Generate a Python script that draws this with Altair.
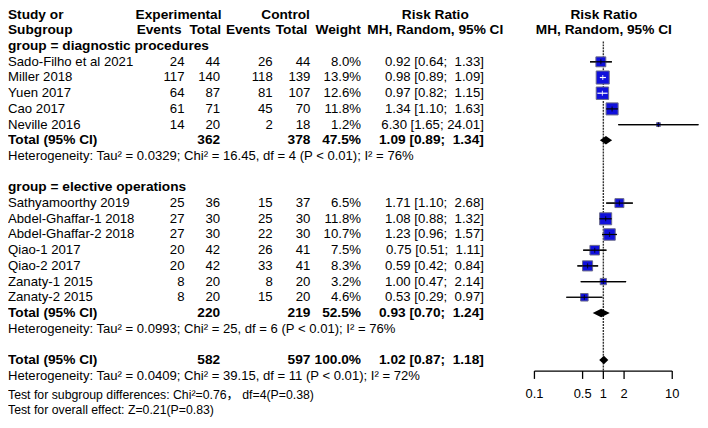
import altair as alt
import pandas as pd
import math

FONT = "Liberation Sans"
FONT_CJK = "Liberation Sans, Noto Sans CJK SC"
FS = 13.3
FS_B = 13.8
FS_HET = 13.2
FS_TEST = 12.4

# ---------------- data ----------------
studies = ["Sado-Filho et al 2021", "Miller 2018", "Yuen 2017", "Cao 2017", "Neville 2016",
           "Sathyamoorthy 2019", "Abdel-Ghaffar-1 2018", "Abdel-Ghaffar-2 2018", "Qiao-1 2017",
           "Qiao-2 2017", "Zanaty-1 2015", "Zanaty-2 2015"]
exp_events = [24, 117, 64, 61, 14, 25, 27, 27, 20, 20, 8, 8]
exp_total = [44, 140, 87, 71, 20, 36, 30, 30, 42, 42, 20, 20]
ctrl_events = [26, 118, 81, 45, 2, 15, 25, 22, 26, 33, 8, 15]
ctrl_total = [44, 139, 107, 70, 18, 37, 30, 30, 41, 41, 20, 20]
weights = [8.0, 13.9, 12.6, 11.8, 1.2, 6.5, 11.8, 10.7, 7.5, 8.3, 3.2, 4.6]
rr = [0.92, 0.98, 0.97, 1.34, 6.30, 1.71, 1.08, 1.23, 0.75, 0.59, 1.00, 0.53]
rr_lower = [0.64, 0.89, 0.82, 1.10, 1.65, 1.10, 0.88, 0.96, 0.51, 0.42, 0.47, 0.29]
rr_upper = [1.33, 1.09, 1.15, 1.63, 24.01, 2.68, 1.32, 1.57, 1.11, 0.84, 2.14, 0.97]
study_rows = [3, 4, 5, 6, 7, 12, 13, 14, 15, 16, 17, 18]

group_labels = ["group = diagnostic procedures", "group = elective operations"]
group_rows = [2, 11]

total_label = "Total (95% CI)"
total_rows = [8, 19, 22]
total_exp = [362, 220, 582]
total_ctrl = [378, 219, 597]
total_weight = [47.5, 52.5, 100.0]
total_rr = [1.09, 0.93, 1.02]
total_lower = [0.89, 0.70, 0.87]
total_upper = [1.34, 1.24, 1.18]

het_texts = [
    "Heterogeneity: Tau\u00b2 = 0.0329; Chi\u00b2 = 16.45, df = 4 (P < 0.01); I\u00b2 = 76%",
    "Heterogeneity: Tau\u00b2 = 0.0993; Chi\u00b2 = 25, df = 6 (P < 0.01); I\u00b2 = 76%",
    "Heterogeneity: Tau\u00b2 = 0.0409; Chi\u00b2 = 39.15, df = 11 (P < 0.01); I\u00b2 = 72%",
]
het_rows = [9, 20, 23]
test_texts = ["Test for subgroup differences: Chi\u00b2=0.76\uff0c df=4(P=0.38)",
              "Test for overall effect: Z=0.21(P=0.83)"]
test_rows = [24.2, 25.2]

tick_values = [0.1, 0.5, 1, 2, 10]
tick_labels = ["0.1", "0.5", "1", "2", "10"]

# ---------------- layout ----------------
W, H = 698, 412
yscale = alt.Scale(domain=[0, 25.2], range=[5, 404], nice=False, zero=False)
xscale = alt.Scale(type="log", domain=[0.1, 10], range=[531, 670], nice=False)
REF_TOP = 1.7
AXIS_ROW = 22.7
TICK_LEN = 0.5
LABEL_ROW = 24.15
SQ_SIZE = 12.5       # px^2 of square per weight percent
SQ_K = 10.5          # threshold for drawing the CI inside the square in white
PX_PER_DEC = 69.5


def rr_text(e, l, u):
    pad = "\u00a0" if u < 10 else ""
    return f"{e:.2f} [{l:.2f}; {pad}{u:.2f}]"


sdf = pd.DataFrame({
    "study": studies, "row": study_rows,
    "ee": [str(v) for v in exp_events], "et": [str(v) for v in exp_total],
    "ce": [str(v) for v in ctrl_events], "ct": [str(v) for v in ctrl_total],
    "weight": weights, "wtxt": [f"{v:.1f}%" for v in weights],
    "rr": rr, "lo": rr_lower, "up": rr_upper,
    "rrtxt": [rr_text(e, l, u) for e, l, u in zip(rr, rr_lower, rr_upper)],
})
inner = []
for w, e, l, u in zip(weights, rr, rr_lower, rr_upper):
    half = math.sqrt(w * SQ_K) / 2
    ok = (math.log10(u / e) * PX_PER_DEC <= half) and (math.log10(e / l) * PX_PER_DEC <= half)
    inner.append("in" if ok else "out")
sdf["inner"] = inner

tdf = pd.DataFrame({
    "label": [total_label] * 3, "row": total_rows,
    "et": [str(v) for v in total_exp], "ct": [str(v) for v in total_ctrl],
    "wtxt": [f"{v:.1f}%" for v in total_weight],
    "rrtxt": [rr_text(e, l, u) for e, l, u in zip(total_rr, total_lower, total_upper)],
})

gdf = pd.DataFrame({"label": group_labels, "row": group_rows})
hetdf = pd.DataFrame({"label": het_texts, "row": het_rows})
testdf = pd.DataFrame({"label": test_texts, "row": test_rows})

DH = 0.27
diam = []
for i, (e, l, u, r) in enumerate(zip(total_rr, total_lower, total_upper, total_rows)):
    diam.append({"id": i, "x": l, "y1": r, "y2": r})
    diam.append({"id": i, "x": e, "y1": r - DH, "y2": r + DH})
    diam.append({"id": i, "x": u, "y1": r, "y2": r})
ddf = pd.DataFrame(diam)

Y = alt.Y("row:Q", scale=yscale, axis=None)


def col_text(df, field, x, align, bold=False, size=None, font=FONT):
    if size is None:
        size = FS_B if bold else FS
    return alt.Chart(df).mark_text(
        align=align, baseline="middle", font=font, fontSize=size,
        fontWeight="bold" if bold else "normal", color="black"
    ).encode(x=alt.value(x), y=Y, text=alt.Text(f"{field}:N"))


def head(text, row, x, align):
    return alt.Chart(pd.DataFrame({"row": [row], "t": [text]})).mark_text(
        align=align, baseline="middle", font=FONT, fontSize=FS_B, fontWeight="bold", color="black"
    ).encode(x=alt.value(x), y=Y, text="t:N")


layers = []
# headers
layers += [
    head("Study or", 0, 0, "left"),
    head("Subgroup", 1, 0, "left"),
    head("Experimental", 0, 172, "center"),
    head("Control", 0, 280, "center"),
    head("Risk Ratio", 0, 431, "center"),
    head("Risk Ratio", 0, 601, "center"),
    head("Events", 1, 175, "right"),
    head("Total", 1, 215, "right"),
    head("Events", 1, 265, "right"),
    head("Total", 1, 302, "right"),
    head("Weight", 1, 356, "right"),
    head("MH, Random, 95% CI", 1, 431, "center"),
    head("MH, Random, 95% CI", 1, 601, "center"),
]
# study rows
layers += [
    col_text(sdf, "study", 0, "left"),
    col_text(sdf, "ee", 178, "right"),
    col_text(sdf, "et", 214, "right"),
    col_text(sdf, "ce", 267, "right"),
    col_text(sdf, "ct", 305, "right"),
    col_text(sdf, "wtxt", 356, "right"),
    col_text(sdf, "rrtxt", 480, "right"),
]
# group labels, totals, heterogeneity and tests
layers += [
    col_text(gdf, "label", 0, "left", bold=True),
    col_text(tdf, "label", 0, "left", bold=True),
    col_text(tdf, "et", 214, "right", bold=True),
    col_text(tdf, "ct", 305, "right", bold=True),
    col_text(tdf, "wtxt", 356, "right", bold=True),
    col_text(tdf, "rrtxt", 480, "right", bold=True),
    col_text(hetdf, "label", 0, "left", size=FS_HET),
    col_text(testdf, "label", 0, "left", size=FS_TEST, font=FONT_CJK),
]


def X(f):
    return alt.X(f"{f}:Q", scale=xscale, axis=None)


# reference line at 1
ref = alt.Chart(pd.DataFrame({"x": [1], "y": [REF_TOP], "y2": [AXIS_ROW]})).mark_rule(
    color="#333333", strokeWidth=1.4, strokeDash=[2, 1]
).encode(x=X("x"), y=alt.Y("y:Q", scale=yscale, axis=None), y2="y2:Q")

ci = alt.Chart(sdf).mark_rule(color="black", strokeWidth=1.2).encode(
    x=X("lo"), x2="up:Q", y=Y)

squares = alt.Chart(sdf).mark_square(
    filled=True, fill="#1010DC", stroke="#6a6a8a", strokeWidth=1, opacity=1
).encode(
    x=X("rr"), y=Y,
    size=alt.Size("weight:Q", scale=alt.Scale(domain=[0, 20], range=[0, 20 * SQ_SIZE]), legend=None),
)
inner_color = alt.Color("inner:N", scale=alt.Scale(domain=["in", "out"], range=["white", "black"]),
                        legend=None)
ci_top = alt.Chart(sdf).mark_rule(strokeWidth=1.2).encode(
    x=X("lo"), x2="up:Q", y=Y, color=inner_color)
est_tick = alt.Chart(sdf).mark_tick(orient="vertical", thickness=1.2, size=5).encode(
    x=X("rr"), y=Y, color=inner_color)

diamonds = alt.Chart(ddf).mark_area(color="black", orient="vertical", opacity=1).encode(
    x=X("x"), y=alt.Y("y1:Q", scale=yscale, axis=None), y2="y2:Q", detail="id:N")

# manual axis
axdf = pd.DataFrame({"x": [tick_values[0]], "x2": [tick_values[-1]], "row": [AXIS_ROW]})
ax_line = alt.Chart(axdf).mark_rule(color="black", strokeWidth=1.3).encode(
    x=X("x"), x2="x2:Q", y=Y)
tkdf = pd.DataFrame({"x": tick_values, "lab": tick_labels,
                     "row": [AXIS_ROW] * len(tick_values),
                     "row2": [AXIS_ROW + TICK_LEN] * len(tick_values),
                     "lrow": [LABEL_ROW] * len(tick_values)})
ax_ticks = alt.Chart(tkdf).mark_rule(color="black", strokeWidth=1.3).encode(
    x=X("x"), y=Y, y2="row2:Q")
ax_labels = alt.Chart(tkdf).mark_text(
    font=FONT, fontSize=13, baseline="middle", align="center", color="black"
).encode(x=X("x"), y=alt.Y("lrow:Q", scale=yscale, axis=None), text="lab:N")

layers += [ref, ci, squares, ci_top, est_tick, diamonds, ax_line, ax_ticks, ax_labels]

chart = alt.layer(*layers).properties(
    width=W, height=H, padding=0,
    autosize=alt.AutoSizeParams(type="none"),
    background="white",
).configure_view(stroke=None)

chart.save("out.html", embed_options={"renderer": "svg", "actions": False})
